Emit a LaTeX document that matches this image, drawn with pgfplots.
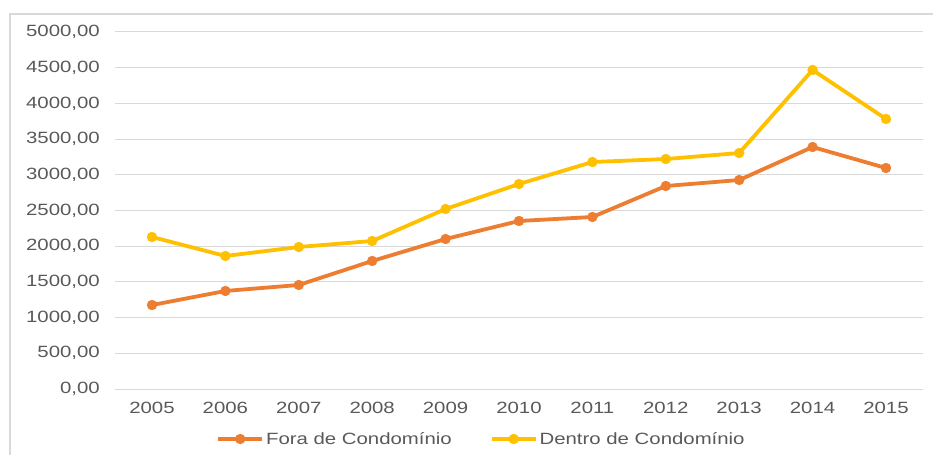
\documentclass[border=0pt]{standalone}
\usepackage{pgfplots}
\pgfplotsset{compat=1.18}
\usepackage{fontspec}
\setmainfont{Liberation Sans}[FakeStretch=1.25]
\definecolor{forac}{HTML}{ED7D31}
\definecolor{dentroc}{HTML}{FFC000}
\definecolor{txtc}{HTML}{595959}
\definecolor{gridc}{HTML}{D9D9D9}
\begin{document}
\begin{tikzpicture}
\path[use as bounding box] (0,0) rectangle (933bp,455bp);
\draw[gridc, line width=1.5bp] (10bp,0bp) -- (10bp,441bp) -- (933bp,441bp);
\begin{axis}[
  at={(115.3bp,66bp)}, anchor=south west,
  scale only axis, width=807.4bp, height=357bp,
  xmin=2004.5, xmax=2015.5, ymin=0, ymax=5000,
  xtick={2005,...,2015}, ytick={0,500,...,5000},
  axis line style={draw=none},
  major tick length=0pt,
  ymajorgrids, grid style={gridc, line width=1bp},
  font=\fontsize{16.3bp}{18bp}\selectfont,
  tick label style={text=txtc},
  xticklabel style={/pgf/number format/1000 sep={}, yshift=-10bp},
  yticklabel style={/pgf/number format/.cd, fixed, fixed zerofill, precision=2, use comma, 1000 sep={}, /tikz/.cd, xshift=-12bp},
  /pgf/number format/assume math mode=true,
  legend columns=2,
  legend style={draw=none, fill=none, at={(0.4535,-0.14)}, anchor=center, text=txtc,
    /tikz/every even column/.append style={column sep=36bp}, inner sep=0pt},
  legend image code/.code={\draw[mark repeat=2,mark phase=2,#1] plot coordinates {(0bp,0bp) (22bp,0bp) (44bp,0bp)};},
]
\addplot[forac, line width=3.8bp, mark=*, mark size=5bp, mark options={solid, draw=forac, fill=forac, line width=0.3bp}] coordinates {
(2005,1176) (2006,1373) (2007,1457) (2008,1793) (2009,2101) (2010,2353)
(2011,2409) (2012,2843) (2013,2927) (2014,3389) (2015,3095)};
\addlegendentry{Fora de Condomínio}
\addplot[dentroc, line width=3.8bp, mark=*, mark size=5bp, mark options={solid, draw=dentroc, fill=dentroc, line width=0.3bp}] coordinates {
(2005,2129) (2006,1863) (2007,1989) (2008,2073) (2009,2521) (2010,2871)
(2011,3179) (2012,3221) (2013,3305) (2014,4468) (2015,3782)};
\addlegendentry{Dentro de Condomínio}
\end{axis}
\end{tikzpicture}
\end{document}
